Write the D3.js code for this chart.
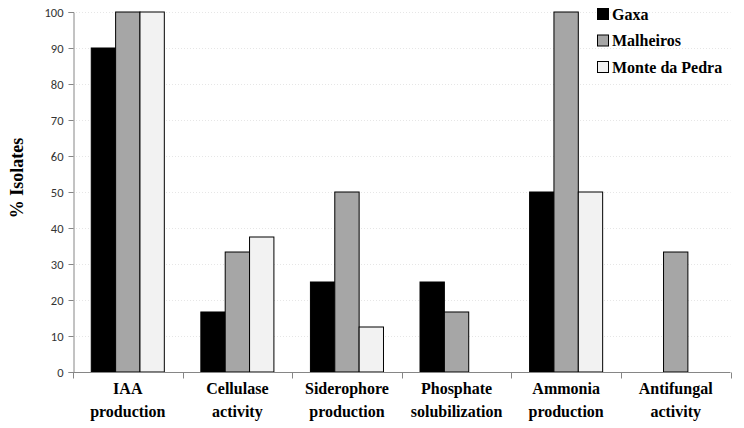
<!DOCTYPE html>
<html><head><meta charset="utf-8">
<script src="https://cdn.jsdelivr.net/npm/d3@7/dist/d3.min.js"></script>
<style>body{margin:0;background:#fff}svg{display:block}
.serif{font-family:"Liberation Serif","DejaVu Serif","Times New Roman",serif;font-weight:bold}
</style>
</head><body>
<svg id="c" width="744" height="428"></svg>
<script>
const categories = [["IAA","production"],["Cellulase","activity"],["Siderophore","production"],["Phosphate","solubilization"],["Ammonia","production"],["Antifungal","activity"]];
const seriesNames = ["Gaxa","Malheiros","Monte da Pedra"];
const gaxa = [90, 16.67, 25, 25, 50, 0];
const malheiros = [100, 33.33, 50, 16.67, 100, 33.33];
const montePedra = [100, 37.5, 12.5, 0, 50, 0];
const yTicks = [0,10,20,30,40,50,60,70,80,90,100];
const colors = ["#000000","#a6a6a6","#f2f2f2"];

const series = [gaxa, malheiros, montePedra];
const svg = d3.select("#c");
const L = 73, R = 730.5, T = 12, B = 372;
const x = d3.scaleBand().domain(d3.range(categories.length)).range([L, R]).paddingInner(0).paddingOuter(0);
const inner = d3.scaleBand().domain(d3.range(3)).range([0, x.bandwidth()]).paddingInner(0).paddingOuter(0.75);
const y = d3.scaleLinear().domain([0,100]).range([B, T]);

// gridlines
svg.append("g").selectAll("line").data(yTicks.filter(d=>d>0)).join("line")
  .attr("x1", L).attr("x2", R).attr("y1", d=>Math.round(y(d))+0.5).attr("y2", d=>Math.round(y(d))+0.5)
  .attr("stroke", "#e6e6e6").attr("stroke-dasharray", "1,2");

// bars
const groups = svg.append("g").selectAll("g").data(categories.map((c,i)=>i)).join("g")
  .attr("transform", i => `translate(${x(i)},0)`);
groups.selectAll("rect").data(i => series.map((s,k)=>({k, v:s[i]})).filter(d=>d.v>0)).join("rect")
  .attr("x", d => inner(d.k)).attr("width", inner.bandwidth())
  .attr("y", d => y(d.v)).attr("height", d => y(0)-y(d.v))
  .attr("fill", d => colors[d.k]).attr("stroke", "#000").attr("stroke-width", 1);

// y axis
const yAxis = d3.axisLeft(y).tickValues(yTicks).tickSize(5).tickPadding(5);
const gy = svg.append("g").attr("transform", `translate(${L+0.5},0)`).call(yAxis);
gy.select(".domain").attr("stroke", "#868686");
gy.selectAll(".tick line").attr("stroke", "#868686");
gy.selectAll(".tick text").attr("font-family", "Carlito, 'Open Sans', 'Liberation Sans', Arial, sans-serif").attr("font-size", 12.5).attr("fill", "#333");

// x axis
const xTickScale = d3.scaleLinear().domain([0, categories.length]).range([L, R]);
const gx = svg.append("g").attr("transform", `translate(0,${B+0.5})`);
gx.append("line").attr("x1", L).attr("x2", R).attr("stroke", "#868686");
gx.selectAll("line.t").data(d3.range(categories.length+1)).join("line").attr("class","t")
  .attr("x1", d=>Math.round(xTickScale(d))+0.5).attr("x2", d=>Math.round(xTickScale(d))+0.5)
  .attr("y1", 0).attr("y2", 6).attr("stroke", "#868686");
const xl = svg.append("g").selectAll("text").data(categories).join("text")
  .attr("class", "serif")
  .attr("x", (d,i) => x(i) + x.bandwidth()/2).attr("y", 394)
  .attr("text-anchor", "middle").style("font-size", "16px").attr("fill", "#000");
xl.each(function(d){
  const t = d3.select(this);
  t.append("tspan").attr("x", t.attr("x")).attr("dy", 0).text(d[0]);
  t.append("tspan").attr("x", t.attr("x")).attr("dy", 23).text(d[1]);
});

// y title
svg.append("text").attr("class", "serif").attr("transform", "translate(23,178) rotate(-90)")
  .attr("text-anchor", "middle").style("font-size", "18px").text("% Isolates");

// legend
const lg = svg.append("g").selectAll("g").data(seriesNames).join("g")
  .attr("transform", (d,i) => `translate(597,${14 + i*26.5})`);
lg.append("rect").attr("x", 0.5).attr("y", -5.5).attr("width", 11).attr("height", 11)
  .attr("fill", (d,i)=>colors[i]).attr("stroke", "#000");
lg.append("text").attr("class", "serif").attr("x", 15).attr("y", 5.5).text(d=>d)
  .style("font-size", "16px");
</script>
</body></html>
